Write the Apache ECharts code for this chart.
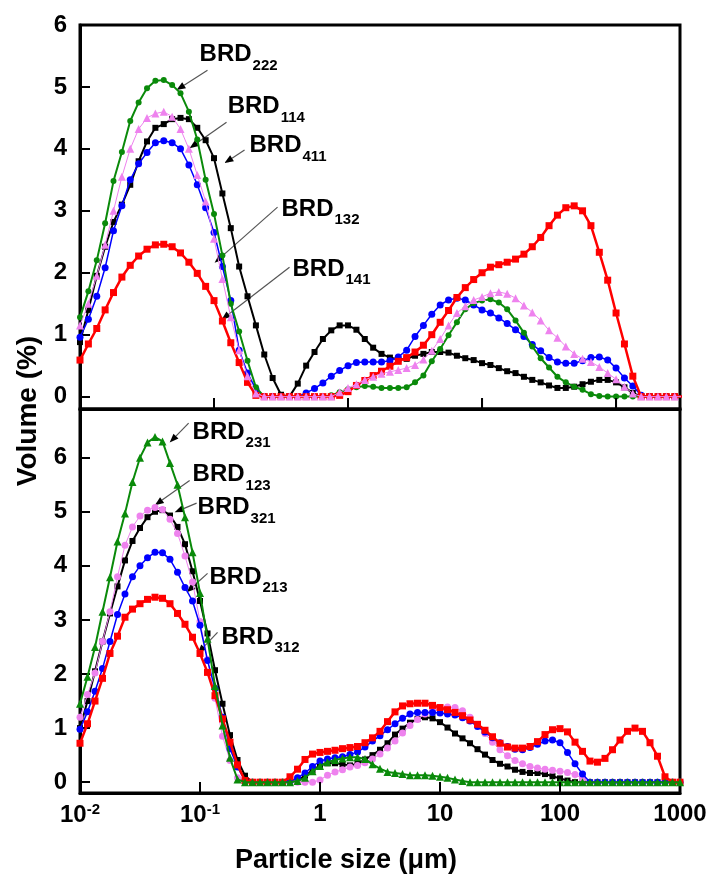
<!DOCTYPE html>
<html><head><meta charset="utf-8">
<script src="https://cdn.jsdelivr.net/npm/echarts@6/dist/echarts.min.js"></script>
<style>html,body{margin:0;padding:0;background:#fff}#c{width:713px;height:876px}</style>
</head><body><div id="c"></div>
<script>
// particle size classes (um)
const sizes = [
 0.0100,0.01155,0.01334,0.01540,0.01778,0.02054,0.02371,0.02738,0.03162,0.03652,0.04217,0.04870,0.05623,0.06494,0.07499,0.08660,
 0.1000,0.1155,0.1334,0.1540,0.1778,0.2054,0.2371,0.2738,0.3162,0.3652,0.4217,0.4870,0.5623,0.6494,0.7499,0.8660,
 1.000,1.155,1.334,1.540,1.778,2.054,2.371,2.738,3.162,3.652,4.217,4.870,5.623,6.494,7.499,8.660,
 10.00,11.55,13.34,15.40,17.78,20.54,23.71,27.38,31.62,36.52,42.17,48.70,56.23,64.94,74.99,86.60,
 100.0,115.5,133.4,154.0,177.8,205.4,237.1,273.8,316.2,365.2,421.7,487.0,562.3,649.4,749.9,866.0,
 1000
];
// upper panel (volume %)
const brd411 = [0.88,1.40,1.95,2.42,2.82,3.10,3.42,3.80,4.12,4.34, 4.40,4.48,4.50,4.48,4.34,4.14,3.85,3.28,2.72,2.10,
 1.62,1.15,0.68,0.30,0.03,0,0.21,0.50,0.72,0.93, 1.07,1.15,1.15,1.08,0.93,0.79,0.69,0.63,0.60,0.61,
 0.66,0.69,0.72,0.72,0.71,0.66,0.62,0.59,0.54,0.51, 0.46,0.41,0.38,0.32,0.27,0.23,0.18,0.14,0.14,0.16,
 0.20,0.24,0.27,0.27,0.23,0.15,0.06,0,0,0, 0,0,0];
const brd141 = [0.59,0.85,1.10,1.40,1.68,1.93,2.12,2.27,2.38,2.45, 2.46,2.42,2.32,2.17,1.99,1.78,1.55,1.22,0.87,0.55,
 0.23,0.02,0,0,0,0,0,0,0,0, 0,0.02,0.08,0.18,0.26,0.34,0.41,0.49,0.57,0.63,
 0.72,0.83,1.00,1.20,1.39,1.60,1.76,1.89,2.00,2.09, 2.13,2.17,2.22,2.30,2.42,2.57,2.76,2.93,3.05,3.08,
 3.00,2.76,2.33,1.88,1.35,0.85,0.33,0,0,0, 0,0,0];
const brd132 = [0.96,1.25,1.62,2.08,2.68,3.08,3.50,3.76,3.94,4.10, 4.13,4.10,4.00,3.74,3.42,3.05,2.65,2.10,1.55,0.75,
 0.38,0.12,0,0,0,0,0,0.06,0.13,0.22, 0.33,0.42,0.50,0.55,0.56,0.56,0.56,0.58,0.64,0.75,
 0.97,1.15,1.33,1.48,1.56,1.59,1.56,1.48,1.40,1.35, 1.27,1.18,1.08,0.97,0.84,0.74,0.63,0.56,0.54,0.54,
 0.58,0.63,0.64,0.59,0.46,0.30,0.17,0.02,0,0, 0,0,0];
const brd114 = [1.15,1.50,1.95,2.45,3.00,3.55,4.00,4.32,4.50,4.57, 4.60,4.52,4.32,4.00,3.58,3.15,2.55,1.90,1.28,0.75,
 0.33,0.05,0,0,0,0,0,0,0,0, 0,0.07,0.14,0.20,0.27,0.32,0.37,0.40,0.43,0.46,
 0.51,0.60,0.74,0.93,1.15,1.35,1.46,1.56,1.61,1.67, 1.69,1.66,1.59,1.47,1.36,1.23,1.07,0.95,0.81,0.69,
 0.61,0.56,0.48,0.38,0.28,0.16,0.05,0,0,0, 0,0,0];
const brd222 = [1.28,1.70,2.20,2.80,3.48,3.95,4.45,4.75,4.98,5.10, 5.11,5.03,4.90,4.60,4.15,3.50,2.95,2.28,1.50,1.05,
 0.58,0.15,0,0,0,0,0,0,0,0, 0.02,0.07,0.12,0.15,0.17,0.16,0.14,0.14,0.14,0.15,
 0.23,0.34,0.57,0.77,0.99,1.20,1.41,1.51,1.55,1.57, 1.52,1.41,1.23,1.03,0.81,0.62,0.47,0.32,0.23,0.16,
 0.11,0.04,0.01,0,0,0,0,0,0,0, 0,0,0];
// lower panel (volume %)
const brd321 = [1.00,1.50,2.05,2.60,3.12,3.62,4.10,4.46,4.70,4.90, 5.00,5.03,4.93,4.72,4.40,3.90,3.35,2.75,2.07,1.45,
 0.87,0.41,0.12,0,0,0,0,0,0,0.03, 0.12,0.22,0.31,0.35,0.35,0.33,0.31,0.34,0.42,0.50,
 0.60,0.72,0.88,0.99,1.10,1.17,1.20,1.18,1.11,1.01, 0.90,0.81,0.72,0.61,0.51,0.41,0.34,0.29,0.23,0.19,
 0.17,0.17,0.15,0.11,0.07,0.03,0,0,0,0, 0,0,0,0,0,0,0,0,0,0, 0];
const brd312 = [0.72,1.08,1.50,1.92,2.38,2.70,3.05,3.20,3.30,3.38, 3.42,3.40,3.30,3.12,2.92,2.68,2.38,2.03,1.60,1.17,
 0.74,0.32,0.03,0,0,0,0,0,0.10,0.24, 0.42,0.52,0.55,0.57,0.59,0.62,0.64,0.66,0.73,0.82,
 0.94,1.12,1.30,1.41,1.45,1.46,1.46,1.42,1.38,1.34, 1.29,1.23,1.15,1.07,0.96,0.84,0.72,0.65,0.63,0.63,
 0.66,0.75,0.88,0.97,0.99,0.93,0.74,0.57,0.39,0.37, 0.44,0.60,0.78,0.94,1.00,0.94,0.73,0.48,0.10,0, 0];
const brd213 = [0.98,1.30,1.68,2.10,2.60,3.10,3.48,3.80,4.00,4.15, 4.25,4.24,4.12,3.88,3.60,3.35,2.90,2.25,1.73,1.20,
 0.62,0.28,0.03,0,0,0,0,0,0.02,0.08, 0.17,0.29,0.39,0.43,0.45,0.47,0.51,0.56,0.65,0.76,
 0.86,0.97,1.08,1.18,1.26,1.29,1.29,1.29,1.28,1.26, 1.24,1.19,1.13,1.03,0.93,0.82,0.73,0.66,0.61,0.60,
 0.64,0.70,0.76,0.78,0.73,0.55,0.34,0.15,0,0, 0,0,0,0,0,0,0,0,0,0, 0];
const brd123 = [1.20,1.62,2.02,2.60,3.15,3.80,4.38,4.72,4.92,5.03, 5.08,5.04,4.86,4.60,4.18,3.70,2.97,2.27,1.55,0.85,
 0.40,0.08,0,0,0,0,0,0,0,0, 0,0,0.04,0.13,0.19,0.23,0.28,0.31,0.36,0.43,
 0.52,0.63,0.76,0.91,1.05,1.16,1.26,1.33,1.38,1.39, 1.38,1.32,1.20,1.06,0.90,0.74,0.60,0.49,0.40,0.34,
 0.29,0.26,0.24,0.22,0.20,0.18,0.14,0.07,0,0, 0,0,0,0,0,0,0,0,0,0, 0];
const brd231 = [1.45,1.95,2.50,3.15,3.79,4.45,4.97,5.55,6.00,6.28, 6.38,6.30,5.90,5.50,4.90,4.25,3.50,2.65,1.78,1.05,
 0.45,0.05,0,0,0,0,0,0,0,0.02, 0.08,0.20,0.30,0.37,0.41,0.44,0.46,0.46,0.43,0.33,
 0.25,0.19,0.17,0.15,0.13,0.13,0.13,0.12,0.10,0.08, 0.05,0.02,0,0,0,0,0,0,0,0,
 0,0,0,0,0,0,0,0,0,0, 0,0,0,0,0,0,0,0,0,0, 0];
const yTicks = [0,1,2,3,4,5,6];
const xTicks = [0.1,1,10,100];

const FONT = '"Liberation Sans", Arial, Helvetica, sans-serif';
const RED='#ff0000', BLUE='#0000ff', GREEN='#0a8a0a', BLACK='#000000', PINK='#ee82ee';

function pairs(vals){ return vals.map((v,i)=>[sizes[i], v]); }
function mk(name, vals, color, symbol, symSize, lw, idx, z){
  return {type:'line', name, xAxisIndex:idx, yAxisIndex:idx, data:pairs(vals), symbol, symbolSize:symSize,
    showSymbol:true, showAllSymbol:true, animation:false, clip:true, z,
    lineStyle:{color, width:lw}, itemStyle:{color, borderWidth:0}, emphasis:{disabled:true}};
}
function yAx(gi, max){
  return {type:'value', gridIndex:gi, min:-0.2, max,
    axisLine:{show:true, onZero:false, lineStyle:{color:'#000', width:3}}, splitLine:{show:false},
    axisTick:{show:true, inside:true, length:10, lineStyle:{color:'#000', width:2}, customValues:yTicks},
    axisLabel:{customValues:yTicks, color:'#000', fontSize:24, fontWeight:'bold', fontFamily:FONT, margin:13}};
}
function xTick(){ return {show:true, inside:true, length:10, lineStyle:{color:'#000', width:2}}; }

const chart = echarts.init(document.getElementById('c'), null, {renderer:'canvas', width:713, height:876});
chart.setOption({
  animation:false,
  backgroundColor:'#fff',
  grid:[
    {left:80, top:25, width:600, height:384, show:true, borderColor:'#000', borderWidth:3, backgroundColor:'transparent', outerBoundsMode:'none'},
    {left:80, top:409, width:600, height:384, show:true, borderColor:'#000', borderWidth:3, backgroundColor:'transparent', outerBoundsMode:'none'}
  ],
  xAxis:[
    {type:'log', logBase:10, gridIndex:0, position:'bottom', min:0.01, max:300,
     axisLine:{show:true, onZero:false, lineStyle:{color:'#000', width:3}}, splitLine:{show:false},
     axisTick:xTick(), axisLabel:{show:false}, minorTick:{show:false}},
    {type:'log', logBase:10, gridIndex:1, position:'bottom', min:0.01, max:1000,
     axisLine:{show:true, onZero:false, lineStyle:{color:'#000', width:3}}, splitLine:{show:false},
     axisTick:xTick(), minorTick:{show:false},
     axisLabel:{margin:9, color:'#000', fontFamily:FONT, fontWeight:'bold', fontSize:24,
       formatter:function(v){ const e=Math.round(Math.log10(v)); return e<0 ? '{b|10}{s|'+e+'}' : '{b|'+Math.round(v)+'}'; },
       rich:{b:{fontSize:24, fontWeight:'bold', fontFamily:FONT, color:'#000'},
             s:{fontSize:15, fontWeight:'bold', fontFamily:FONT, color:'#000', verticalAlign:'top', padding:[0,0,12,0]}}}}
  ],
  yAxis:[yAx(0,6), yAx(1,6.9)],
  series:[
    mk('BRD411', brd411, BLACK, 'rect', 6, 2, 0, 3),
    mk('BRD132', brd132, BLUE, 'circle', 7, 1.5, 0, 4),
    mk('BRD222', brd222, GREEN, 'circle', 6, 2, 0, 5),
    mk('BRD141', brd141, RED, 'rect', 7, 2.5, 0, 6),
    mk('BRD114', brd114, PINK, 'triangle', 8, 1, 0, 7),
    mk('BRD321', brd321, BLACK, 'rect', 6, 2, 1, 3),
    mk('BRD123', brd123, PINK, 'circle', 7, 1, 1, 4),
    mk('BRD213', brd213, BLUE, 'circle', 7, 1.5, 1, 5),
    mk('BRD312', brd312, RED, 'rect', 7, 2.5, 1, 6),
    mk('BRD231', brd231, GREEN, 'triangle', 8, 2, 1, 7)
  ]
});

// annotations, positions given in data space of each panel
const notes = [
  {p:0, sub:'222', text:[0.078,5.52], from:[0.0894,5.27], to:[0.0525,4.95]},
  {p:0, sub:'114', text:[0.1265,4.68], from:[0.124,4.43], to:[0.0657,4.01]},
  {p:0, sub:'411', text:[0.184,4.05], from:[0.169,3.98], to:[0.1197,3.77]},
  {p:0, sub:'132', text:[0.319,3.03], from:[0.298,3.06], to:[0.101,2.16]},
  {p:0, sub:'141', text:[0.385,2.06], from:[0.366,2.09], to:[0.1137,1.24]},
  {p:1, sub:'231', text:[0.0868,6.47], from:[0.0804,6.64], to:[0.0559,6.28]},
  {p:1, sub:'123', text:[0.0868,5.69], from:[0.082,5.58], to:[0.042,5.12]},
  {p:1, sub:'321', text:[0.0955,5.08], from:[0.0937,5.16], to:[0.0615,4.99]},
  {p:1, sub:'213', text:[0.120,3.79], from:[0.1156,3.86], to:[0.0774,3.51]},
  {p:1, sub:'312', text:[0.151,2.68], from:[0.14,2.77], to:[0.0955,2.38]}
];
const mainFont = 'bold 24px ' + FONT, subFont = 'bold 15px ' + FONT;
const ctx = document.createElement('canvas').getContext('2d');
ctx.font = mainFont;
const wBRD = ctx.measureText('BRD').width;
const graphics = [
  {type:'text', x:28, y:411, rotation:Math.PI/2,
   style:{text:'Volume (%)', font:'bold 28px '+FONT, fill:'#000', align:'center', verticalAlign:'middle', textAlign:'center', textVerticalAlign:'middle'}},
  {type:'text', x:346, y:861,
   style:{text:'Particle size (\u03bcm)', font:'bold 27px '+FONT, fill:'#000', align:'center', verticalAlign:'middle', textAlign:'center', textVerticalAlign:'middle'}}
];
// decade ticks on the bottom edge of each panel, placed through the axes
[0,1].forEach(p=>{
  xTicks.forEach(v=>{
    const base = chart.convertToPixel({xAxisIndex:p, yAxisIndex:p}, [v, -0.2]);
    graphics.push({type:'line', z:100, shape:{x1:base[0], y1:base[1], x2:base[0], y2:base[1]-11}, style:{stroke:'#000', lineWidth:2}});
  });
});
notes.forEach(n=>{
  const f = {xAxisIndex:n.p, yAxisIndex:n.p};
  const t = chart.convertToPixel(f, n.text), a = chart.convertToPixel(f, n.from), b = chart.convertToPixel(f, n.to);
  graphics.push({type:'text', x:t[0], y:t[1], style:{text:'BRD', font:mainFont, fill:'#000', align:'left', verticalAlign:'middle', textAlign:'left', textVerticalAlign:'middle'}});
  graphics.push({type:'text', x:t[0]+wBRD+1, y:t[1]+11, style:{text:n.sub, font:subFont, fill:'#000', align:'left', verticalAlign:'middle', textAlign:'left', textVerticalAlign:'middle'}});
  const dx=b[0]-a[0], dy=b[1]-a[1], L=Math.hypot(dx,dy), ux=dx/L, uy=dy/L, nx=-uy, ny=ux;
  const hl=9, hw=3.5, bx=b[0]-ux*hl, by=b[1]-uy*hl;
  graphics.push({type:'line', shape:{x1:a[0], y1:a[1], x2:bx, y2:by}, style:{stroke:'#555', lineWidth:1.2}});
  graphics.push({type:'polygon', shape:{points:[[b[0],b[1]],[bx+nx*hw,by+ny*hw],[bx-nx*hw,by-ny*hw]]}, style:{fill:'#000'}});
});
chart.setOption({graphic:graphics});
</script>
</body></html>
